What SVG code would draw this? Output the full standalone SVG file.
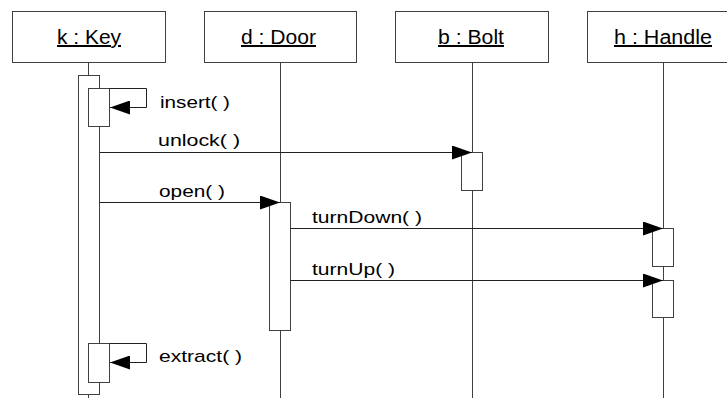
<svg xmlns="http://www.w3.org/2000/svg" width="727" height="398" viewBox="0 0 727 398">
  <style>
    .box { fill: #fff; stroke: #404040; stroke-width: 1; }
    .life { stroke: #404040; stroke-width: 1; fill: none; }
    .act { fill: #fff; stroke: #404040; stroke-width: 1; }
    .msg { stroke: #202020; stroke-width: 1; fill: none; }
    .name { font-family: "Liberation Sans", Arial, sans-serif; font-size: 20px; fill: #000; text-decoration: underline; }
    .lbl { font-family: "Liberation Sans", Arial, sans-serif; font-size: 17px; fill: #000; }
  </style>
  <defs>
    <marker id="arrow" markerUnits="userSpaceOnUse" markerWidth="20" markerHeight="14" refX="20" refY="7" orient="auto">
      <path d="M0,0 L20,7 L0,14 z" fill="#000"/>
    </marker>
  </defs>

  <rect width="727" height="398" fill="#fff"/>

  <!-- k : Key -->
  <g id="key">
    <rect class="box" x="12.5" y="11.5" width="153" height="51"/>
    <text class="name" x="57" y="44" textLength="64" lengthAdjust="spacingAndGlyphs">k : Key</text>
    <line class="life" x1="88.5" y1="62" x2="88.5" y2="398"/>
    <rect class="act" x="78.5" y="75.5" width="21" height="319"/>
    <rect class="act" x="88.5" y="88.5" width="21" height="38"/>
    <rect class="act" x="88.5" y="343.5" width="21" height="39"/>
  </g>

  <!-- d : Door -->
  <g id="door">
    <rect class="box" x="204.5" y="11.5" width="152" height="51"/>
    <text class="name" x="241" y="44" textLength="75" lengthAdjust="spacingAndGlyphs">d : Door</text>
    <line class="life" x1="280.5" y1="62" x2="280.5" y2="398"/>
    <rect class="act" x="269.5" y="202.5" width="21" height="128"/>
  </g>

  <!-- b : Bolt -->
  <g id="bolt">
    <rect class="box" x="395.5" y="11.5" width="153" height="51"/>
    <text class="name" x="438" y="44" textLength="66" lengthAdjust="spacingAndGlyphs">b : Bolt</text>
    <line class="life" x1="472.5" y1="62" x2="472.5" y2="398"/>
    <rect class="act" x="461.5" y="152.5" width="21" height="38"/>
  </g>

  <!-- h : Handle -->
  <g id="handle">
    <rect class="box" x="587.5" y="11.5" width="153" height="51"/>
    <text class="name" x="614" y="44" textLength="98" lengthAdjust="spacingAndGlyphs">h : Handle</text>
    <line class="life" x1="663.5" y1="62" x2="663.5" y2="398"/>
    <rect class="act" x="652.5" y="228.5" width="21" height="38"/>
    <rect class="act" x="652.5" y="280.5" width="21" height="37"/>
  </g>

  <!-- messages -->
  <g id="connectors">
    <polyline class="msg" points="109.5,88.5 146.5,88.5 146.5,107.5 110,107.5" marker-end="url(#arrow)"/>
    <line class="msg" x1="99.5" y1="152.5" x2="472" y2="152.5" marker-end="url(#arrow)"/>
    <line class="msg" x1="99.5" y1="202.5" x2="280" y2="202.5" marker-end="url(#arrow)"/>
    <line class="msg" x1="290.5" y1="228.5" x2="663" y2="228.5" marker-end="url(#arrow)"/>
    <line class="msg" x1="290.5" y1="280.5" x2="663" y2="280.5" marker-end="url(#arrow)"/>
    <polyline class="msg" points="109.5,343.5 146.5,343.5 146.5,362.5 110,362.5" marker-end="url(#arrow)"/>
  </g>

  <!-- message labels -->
  <g id="labels">
    <text class="lbl" x="160" y="108" textLength="70" lengthAdjust="spacingAndGlyphs">insert( )</text>
    <text class="lbl" x="158" y="146" textLength="82" lengthAdjust="spacingAndGlyphs">unlock( )</text>
    <text class="lbl" x="159" y="197" textLength="66" lengthAdjust="spacingAndGlyphs">open( )</text>
    <text class="lbl" x="312" y="223" textLength="110" lengthAdjust="spacingAndGlyphs">turnDown( )</text>
    <text class="lbl" x="312" y="275" textLength="83" lengthAdjust="spacingAndGlyphs">turnUp( )</text>
    <text class="lbl" x="159" y="362" textLength="83" lengthAdjust="spacingAndGlyphs">extract( )</text>
  </g>
</svg>
